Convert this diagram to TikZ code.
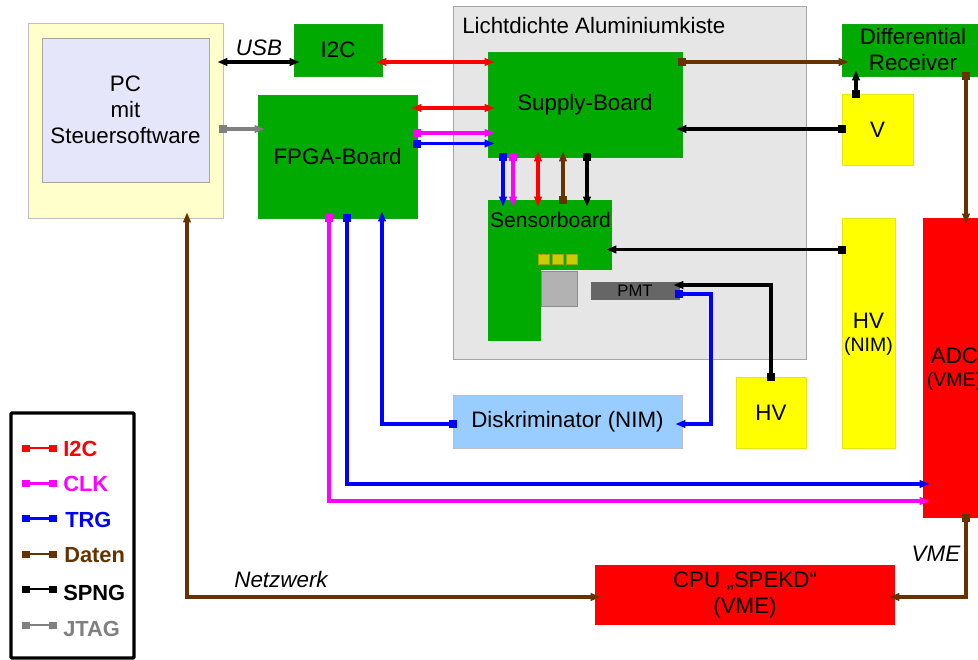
\documentclass[tikz,border=0pt]{standalone}
\usepackage{fontspec}
\setmainfont{Liberation Sans}
\usetikzlibrary{arrows.meta,calc}
\definecolor{cgreen}{HTML}{00AA00}
\definecolor{cbrown}{HTML}{663300}
\definecolor{cmag}{HTML}{FF00FF}
\definecolor{cblue}{HTML}{0000FF}
\definecolor{cred}{HTML}{FF0000}
\definecolor{cgrey}{HTML}{808080}
\definecolor{cyel}{HTML}{FFFF00}
\definecolor{cchip}{HTML}{CCCC00}
\definecolor{cpcout}{HTML}{FFFFCC}
\definecolor{cpcin}{HTML}{E6E6FA}
\definecolor{cdisk}{HTML}{99CCFF}
\definecolor{calu}{HTML}{E6E6E6}
\definecolor{csipm}{HTML}{B2B2B2}
\definecolor{cpmt}{HTML}{666666}
\tikzset{
  tt/.tip={Triangle[length=7.5pt,width=5.6pt]},
  ss/.tip={Square[length=6pt,width=6pt]},
  wire/.style={line width=2.4pt,miter limit=10},
  endover/.style={shorten >=-#1*0.75pt},
  startover/.style={shorten <=-#1*0.75pt},
  boxbase/.style={inner sep=0pt,align=center,font=\fontsize{16.75pt}{19.5pt}\selectfont,line width=0.6pt},
  greenbox/.style={boxbase,fill=cgreen,draw=cgreen!85!gray},
  yellowbox/.style={boxbase,fill=cyel,draw=cyel!80!gray},
  redbox/.style={boxbase,fill=cred},
  chipbox/.style={boxbase,fill=cchip,draw=cchip!80!black},
  lab/.style={font=\fontsize{16.8pt}{18pt}\selectfont\itshape,inner sep=0pt},
  subtxt/.style={inner sep=0pt,align=center,font=\fontsize{16.75pt}{17.25pt}\selectfont},
  legtxt/.style={font=\fontsize{16.4pt}{18pt}\selectfont\bfseries,inner sep=0pt,anchor=west},
  legwire/.style={line width=1.9pt,{Square[length=6pt,width=5.25pt]}-{Square[length=6pt,width=5.25pt]}},
}
\newcommand{\bx}[7]{%
  \pgfmathsetmacro{\bxw}{(#5-#3)*0.75}%
  \pgfmathsetmacro{\bxh}{(#6-#4)*0.75}%
  \node[#2,minimum width=\bxw pt,minimum height=\bxh pt] (#1) at ({(#3+#5)/2},{(#4+#6)/2}) {#7};}
\begin{document}
\begin{tikzpicture}[x=0.75pt,y=-0.75pt]
\useasboundingbox (0,0) rectangle (978,660);
% containers
\bx{alu}{boxbase,fill=calu,draw=black!35}{453}{6}{806}{359}{}
\node[font=\fontsize{16.75pt}{18pt}\selectfont,anchor=west,inner sep=0pt] (alutitle) at (462,26) {Lichtdichte Aluminiumkiste};
\bx{pc}{boxbase,fill=cpcout,draw=black!25}{28}{23}{223}{218}{}
\bx{pcin}{boxbase,fill=cpcin,draw=black!35}{42}{38}{209}{182}{PC\\mit\\Steuersoftware}
% boards
\bx{ic}{greenbox}{294}{24}{382}{76}{I2C}
\bx{fpga}{greenbox}{258}{95}{417}{218}{FPGA-Board}
\bx{supply}{greenbox}{488}{52}{682}{157}{Supply-Board}
\bx{diff}{greenbox}{842}{24}{984}{76}{Differential\\Receiver}
\bx{v}{yellowbox}{842}{94}{913}{165}{V}
\bx{hvn}{yellowbox}{842}{218}{895}{448}{}
\node[subtxt] (hvntxt) at (868.5,334.5) {HV\\{\fontsize{14.6pt}{17pt}\selectfont (NIM)}};
\bx{adc}{redbox}{923}{218}{986}{518}{}
\node[subtxt] (adctxt) at (954.5,369) {ADC\\{\fontsize{14.6pt}{17pt}\selectfont (VME)}};
\bx{hv}{yellowbox}{736}{377}{806}{448}{HV}
\bx{disk}{boxbase,fill=cdisk,draw=black!25}{453}{395}{682}{448}{Diskriminator (NIM)}
\bx{cpu}{redbox}{595}{565}{895}{625}{CPU „SPEKD“\\(VME)}
% sensor board
\bx{sensor}{boxbase,fill=cgreen}{488}{200}{612}{270}{}
\bx{sensorlow}{boxbase,fill=cgreen}{488}{268}{541}{341}{}
\node[font=\fontsize{15.8pt}{18pt}\selectfont,inner sep=0pt] (sensortxt) at (550.5,220) {Sensorboard};
\bx{chipa}{chipbox}{538}{254}{549}{264}{}
\bx{chipb}{chipbox}{552}{254}{563}{264}{}
\bx{chipc}{chipbox}{566}{254}{577}{264}{}
\bx{sipm}{boxbase,fill=csipm,draw=black!45}{541}{271}{577}{306}{}
\bx{pmt}{boxbase,fill=cpmt,draw=cpmt,font=\fontsize{12.5pt}{15pt}\selectfont}{591}{282}{679}{299}{PMT}
% labels
\node[lab] (usb) at (259,48) {USB};
\node[lab] (netz) at (281,579) {Netzwerk};
\node[lab] (vme) at (936,554) {VME};
% connectors
\draw[wire,black,{tt}-{tt},startover=6,endover=6] (pc.east |- 0,62) -- (ic.west |- 0,62);
\draw[wire,cred,{tt}-{tt},startover=6,endover=7] (ic.east |- 0,62) -- (supply.west |- 0,62);
\draw[wire,cred,{tt}-{tt},startover=6,endover=7] (fpga.east |- 0,108) -- (supply.west |- 0,108);
\draw[wire,cmag,{ss}-{tt},startover=4,endover=7] (fpga.east |- 0,133) -- (supply.west |- 0,133);
\draw[wire,cblue,{ss}-{tt},startover=4,endover=7] (fpga.east |- 0,143.5) -- (supply.west |- 0,143.5);
\draw[wire,cgrey,{ss}-{tt},startover=4,endover=7] (pc.east |- 0,129) -- (fpga.west |- 0,129);
\draw[wire,cbrown,{ss}-{tt},startover=4,endover=7] (supply.east |- 0,62) -- (diff.west |- 0,62);
\draw[wire,black,{ss}-{tt},startover=4,endover=6] (v.west |- 0,129) -- (supply.east |- 0,129);
\draw[wire,cblue,{ss}-{tt},startover=4,endover=7] (supply.south -| 503,0) -- (sensor.north -| 503,0);
\draw[wire,cmag,{ss}-{tt},startover=4,endover=7] (supply.south -| 513,0) -- (sensor.north -| 513,0);
\draw[wire,cred,{tt}-{tt},startover=6,endover=7] (supply.south -| 538,0) -- (sensor.north -| 538,0);
\draw[wire,cbrown,{ss}-{tt},startover=4,endover=6] (sensor.north -| 563,0) -- (supply.south -| 563,0);
\draw[wire,black,{ss}-{tt},startover=4,endover=7] (supply.south -| 587,0) -- (sensor.north -| 587,0);
\draw[wire,black,{ss}-{tt},startover=4,endover=6] (v.north -| 856,0) -- (diff.south -| 856,0);
\draw[wire,cbrown,{ss}-{tt},startover=4,endover=6] (diff.south -| 966,0) -- (adc.north -| 966,0);
\draw[wire,black,{ss}-{tt},startover=4,endover=6] (hvn.west |- 0,249.5) -- (sensor.east |- 0,249.5);
\draw[wire,black,{ss}-{tt},startover=4,endover=6] (hv.north) -- (hv.north |- 0,285) -- (pmt.east |- 0,285);
\draw[wire,cblue,{ss}-{tt},startover=4,endover=7] (pmt.east |- 0,294) -- (711,294) -- (711,424) -- (disk.east |- 0,424);
\draw[wire,cblue,{ss}-{tt},startover=4,endover=7] (disk.west |- 0,424) -- (382,424) -- (fpga.south -| 382,0);
\draw[wire,cblue,{ss}-{tt},startover=4,endover=7] (fpga.south -| 347,0) -- (347,484) -- (adc.west |- 0,484);
\draw[wire,cmag,{ss}-{tt},startover=4,endover=7] (fpga.south -| 329,0) -- (329,501) -- (adc.west |- 0,501);
\draw[wire,cbrown,{tt}-{tt},startover=6,endover=6] (pc.south -| 187,0) -- (187,597) -- (cpu.west |- 0,597);
\draw[wire,cbrown,{ss}-{tt},startover=4,endover=6] (adc.south -| 966,0) -- (966,597) -- (cpu.east |- 0,597);
% legend
\bx{legend}{boxbase,line width=2.6pt,draw=black,fill=white,rounded corners=0.8pt}{11}{413}{134}{658}{}
\node[legtxt,cred] (l1) at (63,449) {I2C};
\node[legtxt,cmag] (l2) at (63,484) {CLK};
\node[legtxt,cblue] (l3) at (65,519.5) {TRG};
\node[legtxt,cbrown] (l4) at (64,555) {Daten};
\node[legtxt,black] (l5) at (63,593) {SPNG};
\node[legtxt,cgrey] (l6) at (63,629) {JTAG};
\coordinate (a1) at (22,448);   \coordinate (b1) at (57,448);
\coordinate (a2) at (22,483.5); \coordinate (b2) at (57,483.5);
\coordinate (a3) at (22,518.5); \coordinate (b3) at (57,518.5);
\coordinate (a4) at (22,554);   \coordinate (b4) at (57,554);
\coordinate (a5) at (22,589);   \coordinate (b5) at (57,589);
\coordinate (a6) at (22,625);   \coordinate (b6) at (57,625);
\draw[legwire,cred] (a1) -- (b1);
\draw[legwire,cmag] (a2) -- (b2);
\draw[legwire,cblue] (a3) -- (b3);
\draw[legwire,cbrown] (a4) -- (b4);
\draw[legwire,black] (a5) -- (b5);
\draw[legwire,cgrey] (a6) -- (b6);
\end{tikzpicture}
\end{document}
